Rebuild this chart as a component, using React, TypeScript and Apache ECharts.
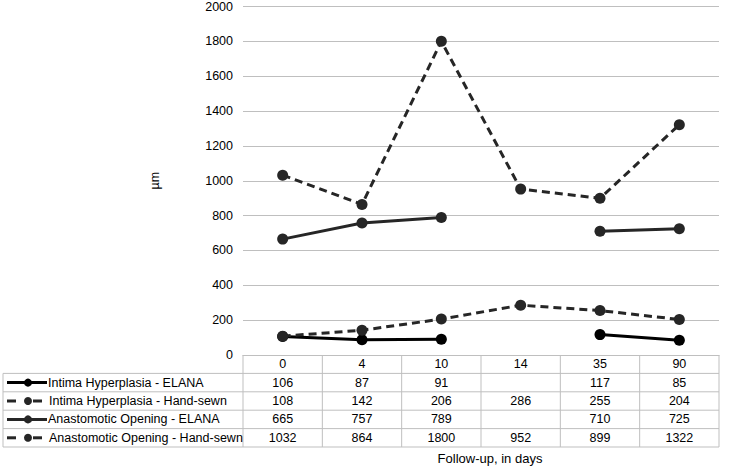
import React, { useEffect, useRef } from "react";
import * as echarts from "echarts";

const categories = ["0", "4", "10", "14", "35", "90"];
const seriesNames = [
  "Intima Hyperplasia - ELANA",
  "Intima Hyperplasia - Hand-sewn",
  "Anastomotic Opening - ELANA",
  "Anastomotic Opening - Hand-sewn",
];
const intimaElana: (number | null)[] = [106, 87, 91, null, 117, 85];
const intimaHand: (number | null)[] = [108, 142, 206, 286, 255, 204];
const anastElana: (number | null)[] = [665, 757, 789, null, 710, 725];
const anastHand: (number | null)[] = [1032, 864, 1800, 952, 899, 1322];
const yTicks = { min: 0, max: 2000, interval: 200 };

const W = 747;
const H = 468;
const GRID = { left: 243, right: 28, top: 6, bottom: 113 };
const FONT = "Liberation Sans, Arial, sans-serif";
const FS = 12.5;
const ROW_H = 18.4;
const TABLE_LEFT = 3;
const BORDER = "#bfbfbf";

const styles = [
  { color: "#000000", dashed: false },
  { color: "#262626", dashed: true },
  { color: "#262626", dashed: false },
  { color: "#262626", dashed: true },
];
const dataSets = [intimaElana, intimaHand, anastElana, anastHand];

export default function App() {
  const ref = useRef<HTMLDivElement>(null);
  useEffect(() => {
    if (!ref.current) return;
    const chart = echarts.init(ref.current, null, { renderer: "svg" });
    chart.setOption({
      animation: false,
      backgroundColor: "#ffffff",
      grid: { ...GRID },
      xAxis: {
        type: "category",
        data: categories,
        boundaryGap: true,
        axisLine: { show: true, lineStyle: { color: BORDER, width: 1 } },
        axisTick: { show: false },
        axisLabel: { show: false },
      },
      yAxis: {
        type: "value",
        min: yTicks.min,
        max: yTicks.max,
        interval: yTicks.interval,
        name: "µm",
        nameLocation: "middle",
        nameGap: 82,
        nameRotate: 90,
        nameTextStyle: { color: "#000", fontSize: FS, fontFamily: FONT },
        axisLine: { show: false },
        axisTick: { show: false },
        axisLabel: { color: "#000", fontSize: FS, fontFamily: FONT, margin: 10, formatter: (v: number) => String(v) },
        splitLine: { lineStyle: { color: BORDER, width: 1 } },
      },
      series: dataSets.map((d, i) => ({
        name: seriesNames[i],
        type: "line",
        data: d,
        connectNulls: false,
        symbol: "circle",
        symbolSize: 11,
        lineStyle: { color: styles[i].color, width: 3, type: styles[i].dashed ? [8, 5] : "solid" },
        itemStyle: { color: styles[i].color },
      })),
    });

    const colX = categories.map((_, i) => chart.convertToPixel({ xAxisIndex: 0 }, i) as number);
    const y0 = chart.convertToPixel({ yAxisIndex: 0 }, 0) as number;
    const plotLeft = GRID.left;
    const plotRight = W - GRID.right;
    const colW = (plotRight - plotLeft) / categories.length;
    const g: any[] = [];
    const tableBottom = y0 + ROW_H * 5;
    for (let i = 0; i <= categories.length; i++) {
      const x = plotLeft + colW * i;
      g.push({ type: "line", shape: { x1: x, y1: y0, x2: x, y2: tableBottom }, style: { stroke: BORDER, lineWidth: 1 } });
    }
    g.push({ type: "line", shape: { x1: TABLE_LEFT, y1: y0 + ROW_H, x2: TABLE_LEFT, y2: tableBottom }, style: { stroke: BORDER, lineWidth: 1 } });
    for (let r = 1; r <= 5; r++) {
      const y = y0 + ROW_H * r;
      g.push({ type: "line", shape: { x1: TABLE_LEFT, y1: y, x2: plotRight, y2: y }, style: { stroke: BORDER, lineWidth: 1 } });
    }
    categories.forEach((c, i) => {
      g.push({ type: "text", x: colX[i], y: y0 + ROW_H / 2, style: { text: c, fontSize: FS, fontFamily: FONT, fill: "#000", align: "center", verticalAlign: "middle" } });
    });
    dataSets.forEach((d, r) => {
      const cy = y0 + ROW_H * (r + 1.5);
      d.forEach((v, i) => {
        if (v === null) return;
        g.push({ type: "text", x: colX[i], y: cy, style: { text: String(v), fontSize: FS, fontFamily: FONT, fill: "#000", align: "center", verticalAlign: "middle" } });
      });
      if (styles[r].dashed) {
        g.push({ type: "line", shape: { x1: 7, y1: cy, x2: 16, y2: cy }, style: { stroke: styles[r].color, lineWidth: 3 } });
        g.push({ type: "line", shape: { x1: 33, y1: cy, x2: 42, y2: cy }, style: { stroke: styles[r].color, lineWidth: 3 } });
      } else {
        g.push({ type: "line", shape: { x1: 7, y1: cy, x2: 47, y2: cy }, style: { stroke: styles[r].color, lineWidth: 3 } });
      }
      g.push({ type: "circle", shape: { cx: 28, cy, r: 4 }, style: { fill: styles[r].color } });
      g.push({ type: "text", x: styles[r].dashed ? 49 : 48, y: cy, style: { text: seriesNames[r], fontSize: FS, fontFamily: FONT, fill: "#000", align: "left", verticalAlign: "middle" } });
    });
    g.push({ type: "text", x: 490, y: tableBottom + 11, style: { text: "Follow-up, in days", fontSize: 13, fontFamily: FONT, fill: "#000", align: "center", verticalAlign: "middle" } });
    chart.setOption({ graphic: g });
    return () => chart.dispose();
  }, []);
  return <div ref={ref} style={{ position: "fixed", left: 0, top: 0, width: W, height: H }} />;
}
